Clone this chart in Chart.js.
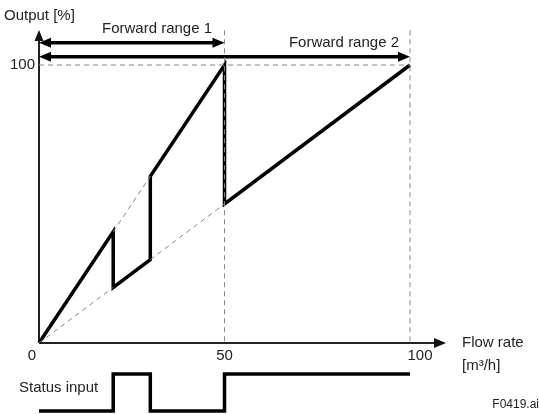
<!DOCTYPE html>
<html>
<head>
<meta charset="utf-8">
<script src="https://cdn.jsdelivr.net/npm/chart.js@4.4.0/dist/chart.umd.min.js"></script>
<style>
  html, body { margin: 0; padding: 0; background: #fff; }
  #wrap { width: 539px; height: 414px; }
</style>
</head>
<body>
<div id="wrap"><canvas id="flowChart" width="539" height="414"></canvas></div>
<script>
// data
const flowPoints = [0, 20, 20, 30, 30, 50, 50, 100];
const outputPoints = [0, 40, 20, 30, 60, 100, 50, 100];
const statusPoints = [0, 0, 1, 1, 0, 0, 1, 1];
const xTicks = [0, 50, 100];
const yTicks = [100];
const range1 = { label: 'Forward range 1', from: 0, to: 50, level: 108 };
const range2 = { label: 'Forward range 2', from: 0, to: 100, level: 103 };
const guideTop = 112.5;

const FONT = '"Liberation Sans", Arial, sans-serif';
const INK = '#000';
const TEXT = '#222';
const DASH = '#888';

function pts(xs, ys) {
    return xs.map((x, i) => ({ x: x, y: ys[i] }));
}

// dashed helper lines, null splits segments
const guides = [
    { x: 0, y: 0 }, { x: 20, y: 20 }, { x: null, y: null },
    { x: 30, y: 30 }, { x: 50, y: 50 }, { x: null, y: null },
    { x: 20, y: 40 }, { x: 30, y: 60 }, { x: null, y: null },
    { x: 50, y: guideTop }, { x: 50, y: 0 }, { x: null, y: null },
    { x: 100, y: guideTop }, { x: 100, y: 0 }, { x: null, y: null },
    { x: 0, y: 100 }, { x: 100, y: 100 }
];

function arrowHead(ctx, x, y, dir) {
    // dir: 1 = pointing right, -1 = left, 'up'
    ctx.beginPath();
    if (dir === 'up') {
        ctx.moveTo(x, y);
        ctx.lineTo(x - 4.5, y + 11);
        ctx.lineTo(x + 4.5, y + 11);
    } else {
        ctx.moveTo(x, y);
        ctx.lineTo(x - dir * 12, y - 5);
        ctx.lineTo(x - dir * 12, y + 5);
    }
    ctx.closePath();
    ctx.fill();
}

const decorPlugin = {
    id: 'decor',
    beforeDatasetsDraw(chart) {
        const ctx = chart.ctx;
        const xs = chart.scales.x, ys = chart.scales.y;
        const x0 = xs.getPixelForValue(0), y0 = ys.getPixelForValue(0);
        ctx.save();
        ctx.strokeStyle = '#222';
        ctx.fillStyle = '#111';
        ctx.lineWidth = 2;
        // y axis
        ctx.beginPath();
        ctx.moveTo(x0, y0);
        ctx.lineTo(x0, 40);
        ctx.stroke();
        arrowHead(ctx, x0, 30, 'up');
        // x axis
        ctx.beginPath();
        ctx.moveTo(x0, y0);
        ctx.lineTo(436, y0);
        ctx.stroke();
        arrowHead(ctx, 446, y0, 1);
        ctx.restore();
    },
    afterDatasetsDraw(chart) {
        const ctx = chart.ctx;
        const xs = chart.scales.x, ys = chart.scales.y;
        ctx.save();
        ctx.fillStyle = INK;
        [range1, range2].forEach(r => {
            const y = ys.getPixelForValue(r.level);
            arrowHead(ctx, xs.getPixelForValue(r.from), y, -1);
            arrowHead(ctx, xs.getPixelForValue(r.to), y, 1);
        });

        ctx.fillStyle = TEXT;
        ctx.font = '15px ' + FONT;
        ctx.textBaseline = 'middle';

        // tick labels
        ctx.textAlign = 'center';
        xTicks.forEach(t => {
            let px = xs.getPixelForValue(t);
            if (t === 0) px -= 7;
            if (t === 100) px += 10;
            ctx.fillText(String(t), px, ys.getPixelForValue(0) + 13);
        });
        ctx.textAlign = 'right';
        yTicks.forEach(t => {
            ctx.fillText(String(t), xs.getPixelForValue(0) - 4, ys.getPixelForValue(t));
        });

        // axis titles
        ctx.textAlign = 'left';
        ctx.fillText('Output [%]', 4, 16);
        ctx.fillText('Flow rate', 462, ys.getPixelForValue(0));
        ctx.fillText('[m\u00B3/h]', 462, ys.getPixelForValue(0) + 23);
        ctx.fillText('Status input', 19, 388);

        // range labels
        ctx.textAlign = 'center';
        ctx.fillText(range1.label, 157, 29);
        ctx.textAlign = 'right';
        ctx.fillText(range2.label, 399, 43);

        ctx.font = '12px ' + FONT;
        ctx.textAlign = 'right';
        ctx.fillText('F0419.ai', 539, 405);
        ctx.restore();
    }
};

const ctx = document.getElementById('flowChart').getContext('2d');
new Chart(ctx, {
    type: 'scatter',
    data: {
        datasets: [
            {
                label: 'guides',
                data: guides,
                showLine: true,
                spanGaps: false,
                borderColor: DASH,
                borderWidth: 1,
                borderDash: [5, 4],
                pointRadius: 0,
                clip: false
            },
            {
                label: 'Output',
                data: pts(flowPoints, outputPoints),
                showLine: true,
                borderColor: INK,
                borderWidth: 3.5,
                borderJoinStyle: 'miter',
                pointRadius: 0,
                clip: false
            },
            {
                label: range1.label,
                data: [{ x: range1.from + 2, y: range1.level }, { x: range1.to - 2, y: range1.level }],
                showLine: true,
                borderColor: INK,
                borderWidth: 3.5,
                pointRadius: 0,
                clip: false
            },
            {
                label: range2.label,
                data: [{ x: range2.from + 2, y: range2.level }, { x: range2.to - 2, y: range2.level }],
                showLine: true,
                borderColor: INK,
                borderWidth: 3.5,
                pointRadius: 0,
                clip: false
            },
            {
                label: 'Status input',
                data: pts(flowPoints, statusPoints),
                yAxisID: 'ys',
                showLine: true,
                borderColor: INK,
                borderWidth: 3.5,
                borderJoinStyle: 'miter',
                pointRadius: 0,
                clip: false
            }
        ]
    },
    options: {
        responsive: false,
        animation: false,
        events: [],
        layout: { padding: { left: 39, right: 129, top: 65, bottom: 71 } },
        plugins: {
            legend: { display: false },
            tooltip: { enabled: false }
        },
        scales: {
            x: { type: 'linear', min: 0, max: 100, display: false },
            y: { type: 'linear', min: 0, max: 100, display: false },
            ys: { type: 'linear', min: 1.838, max: 9.352, display: false }
        }
    },
    plugins: [decorPlugin]
});
</script>
</body>
</html>
